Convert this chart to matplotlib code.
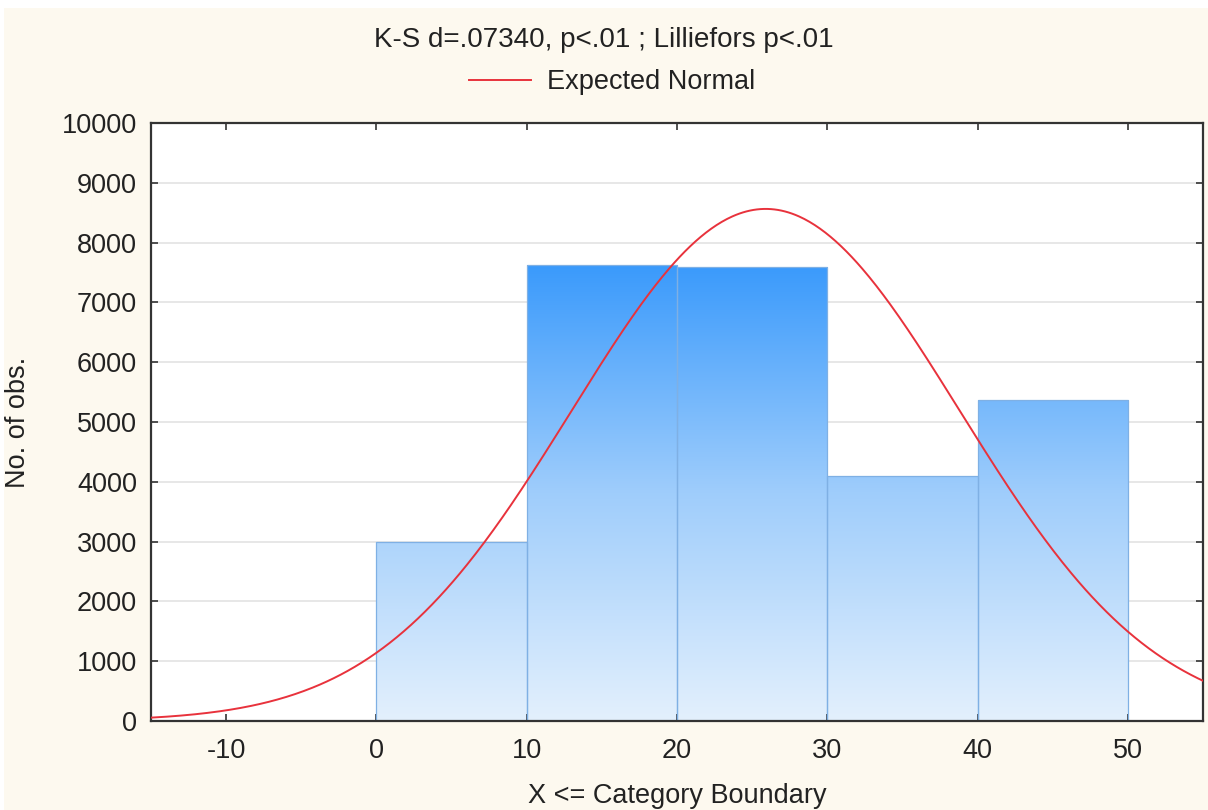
import numpy as np
import matplotlib
matplotlib.use("Agg")
import matplotlib.pyplot as plt
from matplotlib.patches import Rectangle
from matplotlib.colors import LinearSegmentedColormap

plt.rcParams['font.family'] = ['Liberation Sans', 'DejaVu Sans']
plt.rcParams['axes.unicode_minus'] = False

# Histogram data: category boundaries and counts
bin_edges = [0, 10, 20, 30, 40, 50]
counts = [3000, 7630, 7600, 4100, 5360]

# Fitted normal parameters
norm_mean = 25.9
norm_sd = 12.9

title_text = "K-S d=.07340, p<.01 ; Lilliefors p<.01"
legend_label = "Expected Normal"
x_label = "X <= Category Boundary"
y_label = "No. of obs."
x_ticks = [-10, 0, 10, 20, 30, 40, 50]
y_ticks = [0, 1000, 2000, 3000, 4000, 5000, 6000, 7000, 8000, 9000, 10000]

W, H = 1208, 810
fig = plt.figure(figsize=(W / 100, H / 100), dpi=100)
fig.patch.set_facecolor('white')
# cream panel behind the chart
fig.patches.append(Rectangle((4 / W, 0), 1 - 4 / W, 1 - 8 / H, transform=fig.transFigure,
                             facecolor='#fdf9ef', edgecolor='none', zorder=-10))

ax = fig.add_axes([151 / W, 1 - 721 / H, (1203 - 151) / W, (721 - 123) / H])
ax.set_facecolor('white')
ax.set_xlim(-15, 55)
ax.set_ylim(0, 10000)

# horizontal grid
for yv in y_ticks[1:-1]:
    ax.axhline(yv, color='#e3e3e3', lw=1.2, zorder=0)

# gradient-filled bars
cmap = LinearSegmentedColormap.from_list('blues', ['#e3f0fd', '#9fcdfb', '#3a9afc'])
grad = np.linspace(0, 1, 256).reshape(-1, 1)
top = max(counts)
for left, right, c in zip(bin_edges[:-1], bin_edges[1:], counts):
    im = ax.imshow(grad, cmap=cmap, origin='lower', aspect='auto',
                   extent=(left, right, 0, top), zorder=1, interpolation='bilinear')
    rect = Rectangle((left, 0), right - left, c, facecolor='none',
                     edgecolor='#7fb0e4', lw=0.9, zorder=2)
    ax.add_patch(rect)
    im.set_clip_path(rect)

# expected normal curve
xs = np.linspace(-15, 55, 600)
n_total = sum(counts)
bw = bin_edges[1] - bin_edges[0]
ys = n_total * bw / (norm_sd * np.sqrt(2 * np.pi)) * np.exp(-0.5 * ((xs - norm_mean) / norm_sd) ** 2)
line, = ax.plot(xs, ys, color='#e8323c', lw=1.4, zorder=3, label=legend_label)

ax.set_xticks(x_ticks)
ax.set_yticks(y_ticks)
ax.tick_params(direction='in', length=5, width=1.2, colors='#333333', labelsize=19.5,
               top=True, right=True, pad=12, labelcolor='#222222')
ax.tick_params(axis='y', pad=10)
for sp in ax.spines.values():
    sp.set_color('#333333')
    sp.set_linewidth(1.6)

ax.set_xlabel(x_label, fontsize=19.5, color='#222222', labelpad=14)
ax.set_ylabel(y_label, fontsize=19.5, color='#222222', labelpad=22)

fig.text(604 / W, 1 - 40 / H, title_text, ha='center', va='center', fontsize=20, color='#222222')
leg = fig.legend(handles=[line], loc='center', bbox_to_anchor=(612 / W, 1 - 82 / H),
                 frameon=False, fontsize=19.5, handlelength=2.3, handletextpad=0.6)
for t in leg.get_texts():
    t.set_color('#222222')

fig.savefig('out.png', dpi=100, facecolor=fig.get_facecolor())
